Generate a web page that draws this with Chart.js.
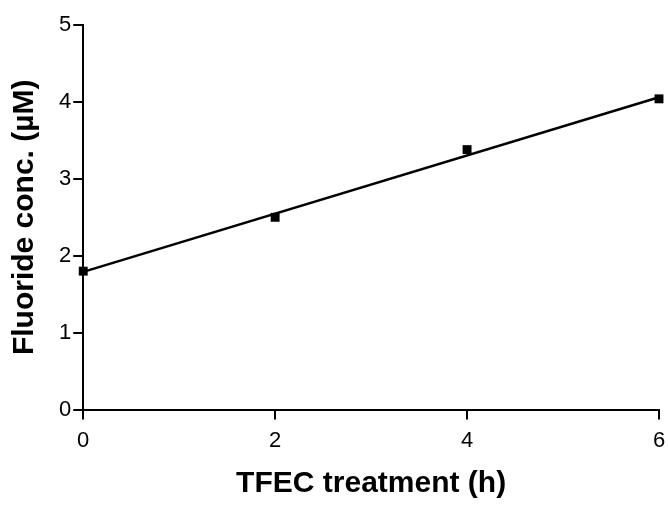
<!DOCTYPE html>
<html>
<head>
<meta charset="utf-8">
<script src="https://cdn.jsdelivr.net/npm/chart.js@4/dist/chart.umd.min.js"></script>
<style>
  html, body { margin: 0; padding: 0; background: #fff; }
  #wrap { width: 668px; height: 506px; }
</style>
</head>
<body>
<div id="wrap"><canvas id="myChart" width="668" height="506"></canvas></div>
<script>
const hours = [0, 2, 4, 6];
const fluoride = [1.8, 2.5, 3.38, 4.04];
// fitted line end points
const fitHours = [0, 6];
const fitValues = [1.79, 4.06];
const xTicks = [0, 2, 4, 6];
const yTicks = [0, 1, 2, 3, 4, 5];

const context = document.getElementById("myChart").getContext("2d");
const config = {
  type: "scatter",
  data: {
    datasets: [
      {
        data: hours.map((h, i) => ({ x: h, y: fluoride[i] })),
        pointStyle: "rect",
        pointRadius: 6.3,
        backgroundColor: "#000",
        borderColor: "#000",
        borderWidth: 0,
        showLine: false,
        clip: false,
      },
      {
        data: fitHours.map((h, i) => ({ x: h, y: fitValues[i] })),
        showLine: true,
        pointRadius: 0,
        borderColor: "#000",
        borderWidth: 2.5,
        clip: false,
      },
    ],
  },
  options: {
    responsive: false,
    animation: false,
    layout: { padding: { top: 25, right: 0, left: 7, bottom: 4 } },
    plugins: {
      legend: { display: false },
      tooltip: { enabled: false },
    },
    scales: {
      x: {
        type: "linear",
        min: 0,
        max: 6,
        afterBuildTicks: (axis) => {
          axis.ticks = xTicks.map((v) => ({ value: v }));
        },
        afterFit: (axis) => {
          axis.paddingRight = 9;
        },
        grid: { drawOnChartArea: false, drawTicks: true, tickLength: 10, color: "#000", lineWidth: 2 },
        border: { display: true, color: "#000", width: 2 },
        ticks: { color: "#000", font: { family: "Liberation Sans", size: 22 }, padding: 8 },
        title: {
          display: true,
          text: "TFEC treatment (h)",
          color: "#000",
          font: { family: "Liberation Sans", size: 30, weight: "bold" },
          padding: { top: 4, bottom: 0 },
        },
      },
      y: {
        type: "linear",
        min: 0,
        max: 5,
        afterBuildTicks: (axis) => {
          axis.ticks = yTicks.map((v) => ({ value: v }));
        },
        grid: { drawOnChartArea: false, drawTicks: true, tickLength: 10, color: "#000", lineWidth: 2 },
        border: { display: true, color: "#000", width: 2 },
        ticks: { color: "#000", font: { family: "Liberation Sans", size: 22 }, padding: 2 },
        title: {
          display: true,
          text: "Fluoride conc. (\u00b5M)",
          color: "#000",
          font: { family: "Liberation Sans", size: 30, weight: "bold" },
          padding: { top: 0, bottom: 14 },
        },
      },
    },
  },
};

const myChart = new Chart(context, config);
</script>
</body>
</html>
